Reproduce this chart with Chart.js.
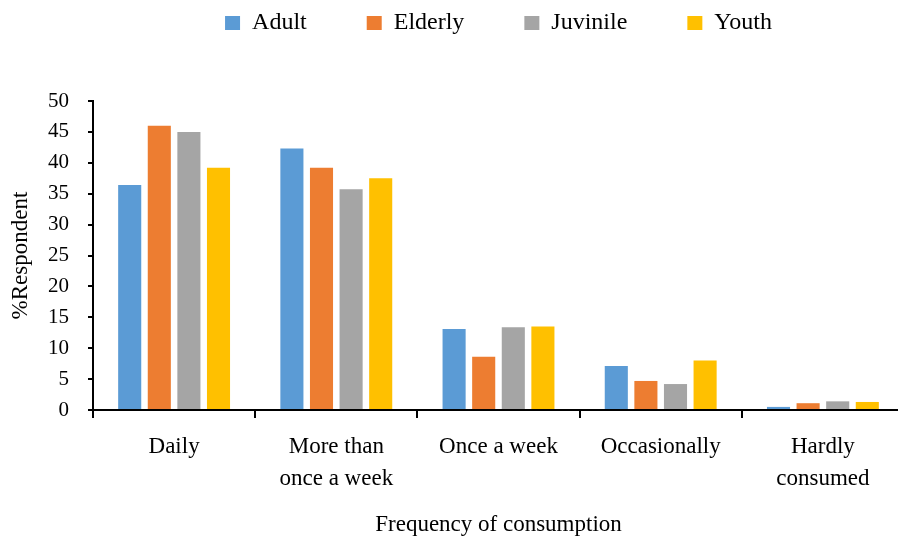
<!DOCTYPE html>
<html>
<head>
<meta charset="utf-8">
<script src="https://cdn.jsdelivr.net/npm/chart.js@4/dist/chart.umd.min.js"></script>
<style>
  html, body { margin: 0; padding: 0; overflow: hidden; background: #fff; }
  #wrap { width: 904px; height: 536px; position: relative; }
</style>
</head>
<body>
<div id="wrap"><canvas id="c"></canvas></div>
<script>
// Frequency of consumption by age group (% of respondents)
const categories = ['Daily', ['More than', 'once a week'], 'Once a week', 'Occasionally', ['Hardly', 'consumed']];
const adult    = [36.4, 42.3, 13.1, 7.1, 0.5];
const elderly  = [46.0, 39.2,  8.6, 4.7, 1.1];
const juvinile = [45.0, 35.7, 13.4, 4.2, 1.4];
const youth    = [39.2, 37.5, 13.5, 8.0, 1.3];
const yMin = 0, yMax = 50, yStep = 5;

const FONT = "'Liberation Serif', 'Times New Roman', serif";
const LEGEND_FONT = 24;
const LEGEND_CENTER_Y = 23;
const TOP_SPACE = 101;

// Keep the legend out of the layout flow: it sits in the top strip,
// centred over the plot area.
const legendPlacer = {
  id: 'legendPlacer',
  beforeLayout(chart) {
    const lg = chart.legend;
    if (lg && !lg._fixedFit) {
      const fit = lg.fit.bind(lg);
      lg.fit = function () { fit(); this.height = TOP_SPACE; };
      lg._fixedFit = true;
    }
  },
  afterLayout(chart) {
    const lg = chart.legend;
    const pad = lg.options.labels.padding;
    const h = lg.height;
    lg.top = LEGEND_CENTER_Y - pad - LEGEND_FONT / 2;
    lg.bottom = lg.top + h;
    const ca = chart.chartArea;
    const shift = (ca.left + ca.right) / 2 - (lg.left + lg.right) / 2;
    lg.left += shift;
    lg.right += shift;
  }
};

new Chart(document.getElementById('c'), {
  type: 'bar',
  data: {
    labels: categories,
    datasets: [
      { label: 'Adult',    data: adult,    backgroundColor: '#5B9BD5' },
      { label: 'Elderly',  data: elderly,  backgroundColor: '#ED7D31' },
      { label: 'Juvinile', data: juvinile, backgroundColor: '#A5A5A5' },
      { label: 'Youth',    data: youth,    backgroundColor: '#FFC000' }
    ]
  },
  options: {
    responsive: true,
    maintainAspectRatio: false,
    animation: false,
    layout: { padding: 0 },
    datasets: { bar: { categoryPercentage: 0.73, barPercentage: 0.78 } },
    plugins: {
      tooltip: { enabled: false },
      legend: {
        position: 'top',
        labels: {
          boxWidth: 15,
          boxHeight: 14,
          padding: 60,
          color: '#000',
          font: { family: FONT, size: LEGEND_FONT }
        }
      }
    },
    scales: {
      x: {
        afterFit(scale) { scale.height = 126; },
        border: { color: '#000', width: 2 },
        grid: { drawOnChartArea: false, drawTicks: true, tickLength: 8, color: '#000', lineWidth: 2, offset: true },
        ticks: {
          color: '#000',
          padding: 13,
          maxRotation: 0,
          autoSkip: false,
          font: { family: FONT, size: 23, lineHeight: 1.4 }
        },
        title: {
          display: true,
          text: 'Frequency of consumption',
          color: '#000',
          padding: { top: 0, bottom: 0 },
          font: { family: FONT, size: 23, lineHeight: 1.0 }
        }
      },
      y: {
        min: yMin,
        max: yMax,
        afterFit(scale) { scale.width = 93; },
        border: { color: '#000', width: 2 },
        grid: { drawOnChartArea: false, drawTicks: true, tickLength: 5, color: '#000', lineWidth: 2 },
        ticks: {
          stepSize: yStep,
          color: '#000',
          padding: 19,
          font: { family: FONT, size: 21 }
        },
        title: {
          display: true,
          text: '%Respondent',
          color: '#000',
          padding: { top: 7, bottom: 0 },
          font: { family: FONT, size: 23 }
        }
      }
    }
  },
  plugins: [legendPlacer]
});
</script>
</body>
</html>
